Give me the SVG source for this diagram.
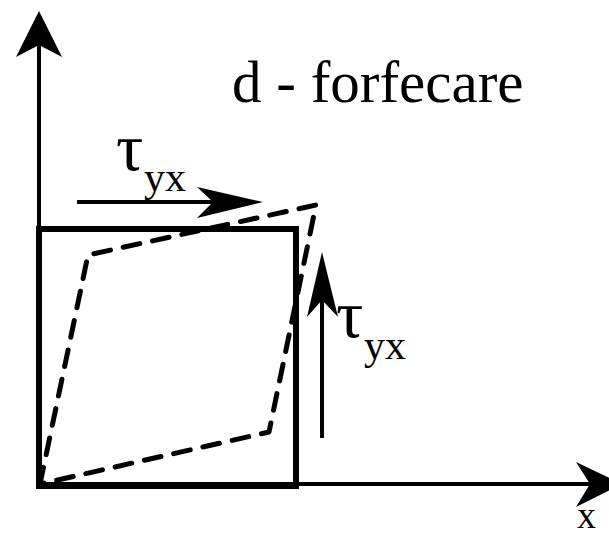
<svg xmlns="http://www.w3.org/2000/svg" width="609" height="537" viewBox="0 0 609 537">
<style>
.t{font-family:"Liberation Serif","Times New Roman",serif;fill:#000}
.ax{stroke:#000;stroke-width:4;fill:none}
.ah{fill:#000;stroke:none}
</style>
<rect width="609" height="537" fill="#fff"/>
<g id="axes">
<line class="ax" x1="39" y1="486" x2="39" y2="40"/>
<path class="ah" d="M39 11 L62 57 L39 45 L16 57 Z"/>
<line class="ax" x1="39" y1="484" x2="595" y2="484"/>
<path class="ah" d="M622 484 L576 507 L590 484 L576 462 Z"/>
</g>
<g id="square">
<rect x="39" y="229" width="257" height="257" fill="none" stroke="#000" stroke-width="6"/>
</g>
<g id="deformed">
<path d="M40 484 L88 255 L316 205 L269 432 Z" fill="none" stroke="#000" stroke-width="5" stroke-linecap="round" stroke-linejoin="round" stroke-dasharray="17 13"/>
</g>
<g id="connectors">
<line class="ax" x1="77" y1="202" x2="215" y2="202"/>
<path class="ah" d="M263 202 L197 218 L213 202 L197 187 Z"/>
<line class="ax" x1="322" y1="438" x2="322" y2="300"/>
<path class="ah" d="M322 252 L338 317 L322 300 L307 317 Z"/>
</g>
<g id="labels">
<text class="t" x="232" y="102" font-size="59">d - forfecare</text>
<text class="t" x="116" y="170" font-size="68">τ</text>
<text class="t" x="144" y="191" font-size="42">yx</text>
<text class="t" x="336" y="337" font-size="68">τ</text>
<text class="t" x="364" y="359" font-size="42">yx</text>
<text class="t" x="577" y="528" font-size="38">x</text>
</g>
</svg>
